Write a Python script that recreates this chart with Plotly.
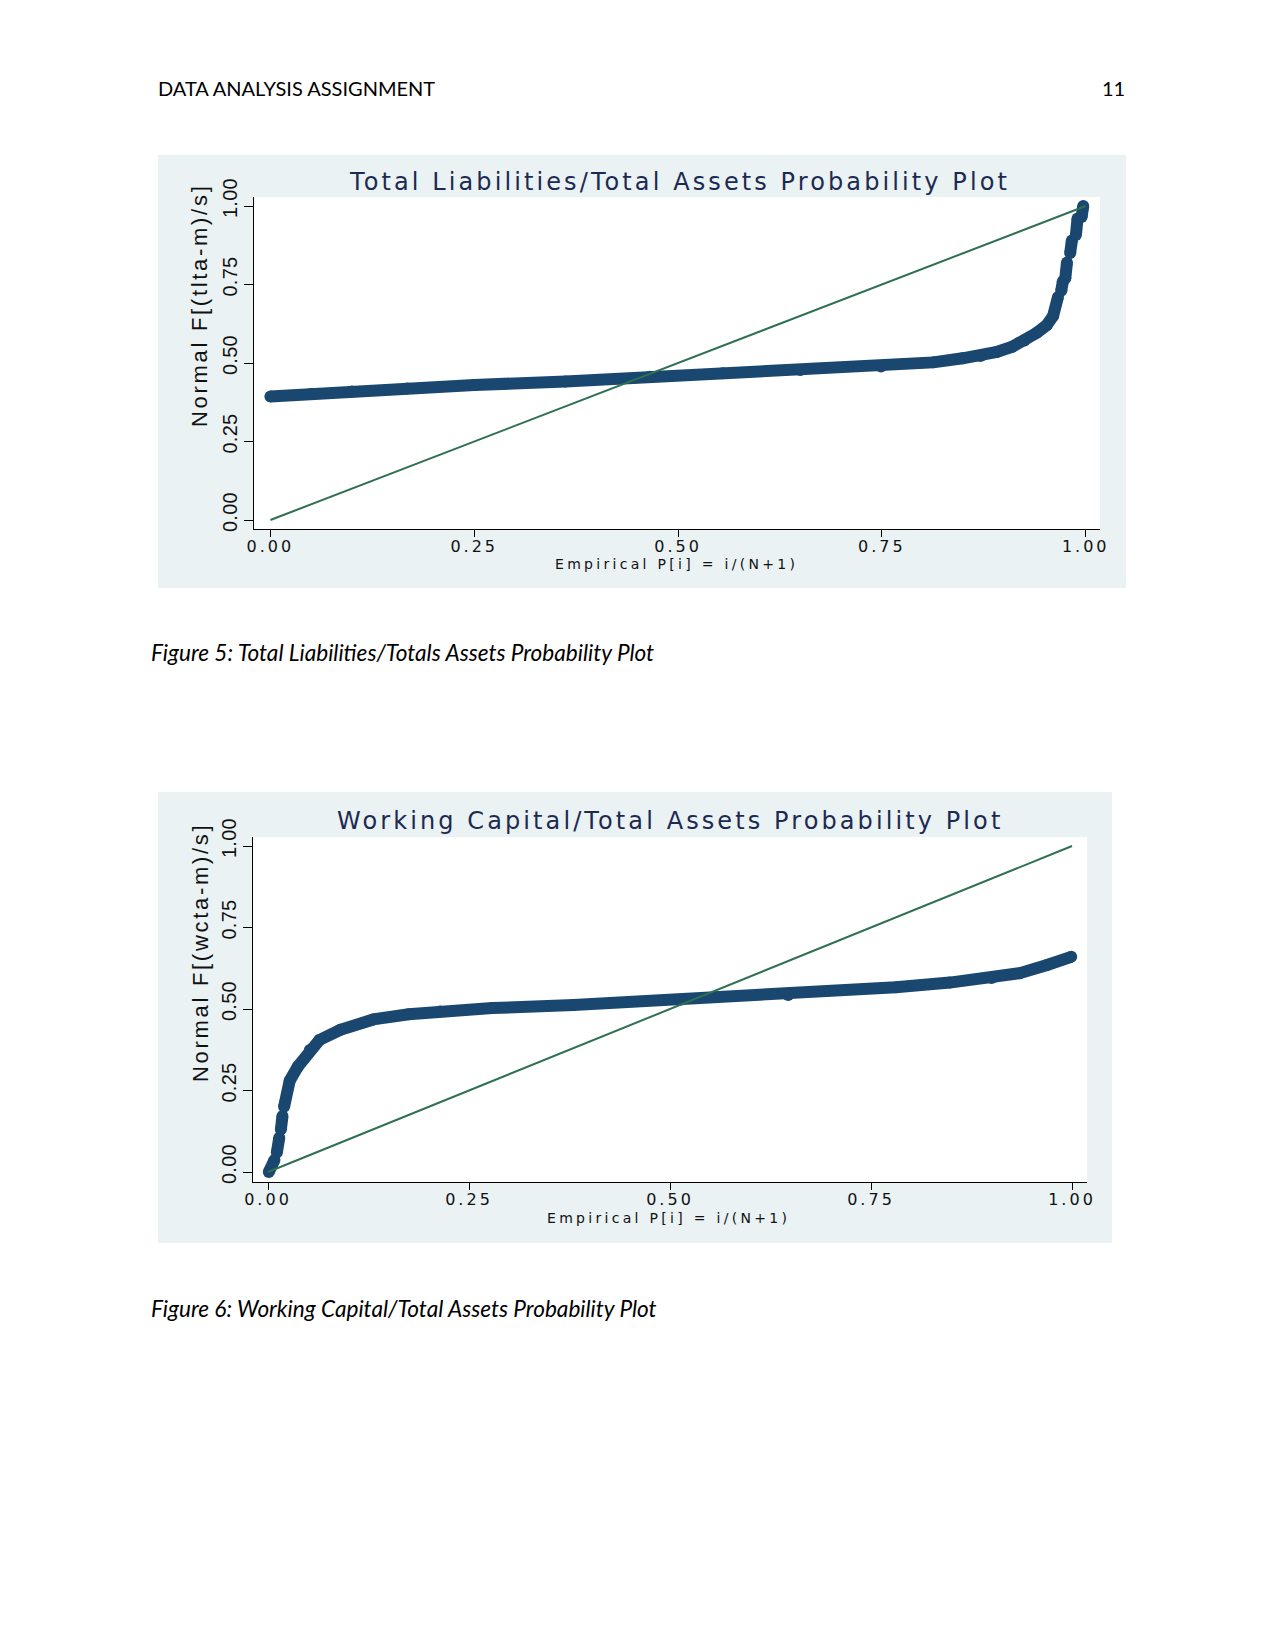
import plotly.graph_objects as go

W, H = 1275, 1650

# ---------------- data ----------------
# Figure 5: Total Liabilities / Total Assets  (Empirical P vs Normal F)
tlta_p = [0.000, 0.050, 0.100, 0.168, 0.250, 0.362, 0.465, 0.555, 0.650, 0.749,
          0.813, 0.849, 0.871, 0.891, 0.910, 0.925, 0.940, 0.952, 0.960, 0.966,
          None, 0.970, 0.972, None, 0.975, 0.977, None, 0.981, 0.983, None,
          0.988, 0.990, None, 0.995, 0.997]
tlta_f = [0.393, 0.401, 0.409, 0.419, 0.430, 0.441, 0.456, 0.467, 0.478, 0.489,
          0.502, 0.515, 0.522, 0.535, 0.552, 0.572, 0.596, 0.620, 0.650, 0.710,
          None, 0.730, 0.760, None, 0.770, 0.820, None, 0.850, 0.890, None,
          0.908, 0.960, None, 0.965, 1.000]

# Figure 6: Working Capital / Total Assets
wcta_p = [0.001, 0.008, None, 0.011, 0.014, None, 0.016, 0.018, None, 0.020,
          0.027, 0.037, 0.052, 0.064, 0.090, 0.131, 0.175, 0.214, 0.279, 0.380,
          0.513, 0.647, 0.781, 0.848, 0.900, 0.935, 0.969, 0.999]
wcta_f = [0.000, 0.037, None, 0.060, 0.105, None, 0.130, 0.172, None, 0.200,
          0.280, 0.323, 0.374, 0.405, 0.436, 0.468, 0.484, 0.492, 0.503, 0.512,
          0.528, 0.543, 0.567, 0.581, 0.595, 0.610, 0.635, 0.660]

# 45-degree reference line
ref_p = [0.0, 1.0]
ref_f = [0.0, 1.0]

tick_vals = [0.0, 0.25, 0.50, 0.75, 1.00]
tick_text = ["0.00", "0.25", "0.50", "0.75", "1.00"]

titles = ["Total Liabilities/Total Assets Probability Plot",
          "Working Capital/Total Assets Probability Plot"]
ytitles = ["Normal F[(tlta-m)/s]", "Normal F[(wcta-m)/s]"]
xtitle = "Empirical P[i] = i/(N+1)"
captions = ["Figure 5: Total Liabilities/Totals Assets Probability Plot",
            "Figure 6: Working Capital/Total Assets Probability Plot"]
header_left = "DATA ANALYSIS ASSIGNMENT"
header_right = "11"

# ---------------- styling ----------------
NAVY = "#1a476f"
GREEN = "#2e7052"
PANEL = "#eaf2f3"
TITLE_C = "#1c2a52"
TXT = "#111111"
WIDE = "DejaVu Sans, Liberation Sans, sans-serif"
ARIAL = "Liberation Sans, Arial, sans-serif"
DOC = "Lato, Carlito, sans-serif"


def px(x):
    return x / W


def py(y):
    return 1 - y / H


def ls(t, s):
    return f'<span style="letter-spacing:{s}px">{t}</span>'


# pixel geometry of the two Stata panels
panels = [
    dict(panel=(158, 155, 1126, 588), plot=(254, 197, 1100, 529),
         x0=270.4, x1=1085.7, y0=520, y1=206,
         title=(679, 182), ytitle=(200, 306), xtitle=(676, 564)),
    dict(panel=(158, 792, 1112, 1243), plot=(253, 837, 1087, 1182),
         x0=268, x1=1072, y0=1172, y1=846,
         title=(670, 821), ytitle=(200, 953), xtitle=(668, 1218)),
]

fig = go.Figure()
series = [(tlta_p, tlta_f), (wcta_p, wcta_f)]
shapes = []
annotations = []
layout_axes = {}

for i, (pnl, (sx, sy)) in enumerate(zip(panels, series)):
    n = "" if i == 0 else str(i + 1)
    xa, ya = "x" + n, "y" + n
    fig.add_trace(go.Scatter(
        x=sx, y=sy, xaxis=xa, yaxis=ya, mode="lines+markers",
        line=dict(color=NAVY, width=12), connectgaps=False,
        marker=dict(color=NAVY, size=12, line=dict(width=0)),
        hoverinfo="skip", showlegend=False))
    fig.add_trace(go.Scatter(
        x=ref_p, y=ref_f, xaxis=xa, yaxis=ya, mode="lines",
        line=dict(color=GREEN, width=2), hoverinfo="skip", showlegend=False))

    L, T, R, B = pnl["plot"]
    ux = (pnl["x1"] - pnl["x0"])
    uy = (pnl["y0"] - pnl["y1"])
    xr = [(L - pnl["x0"]) / ux, (R - pnl["x0"]) / ux]
    yr = [(pnl["y0"] - B) / uy, (pnl["y0"] - T) / uy]

    layout_axes["xaxis" + n] = dict(
        domain=[px(L), px(R)], range=xr, anchor=ya, automargin=False,
        showline=True, linecolor="black", linewidth=1.3,
        ticks="outside", ticklen=7, tickwidth=1.2, tickcolor="black",
        tickvals=tick_vals, ticktext=[ls(t, 3) for t in tick_text],
        ticklabelstandoff=-4,
        tickfont=dict(family=WIDE, size=16, color=TXT),
        showgrid=False, zeroline=False, fixedrange=True)
    layout_axes["yaxis" + n] = dict(
        domain=[py(B), py(T)], range=yr, anchor=xa, automargin=False,
        showline=True, linecolor="black", linewidth=1.3,
        ticks="outside", ticklen=9, tickwidth=1.2, tickcolor="black",
        tickvals=tick_vals, ticktext=[ls(t, 0.3) for t in tick_text],
        tickangle=-90, ticklabelshift=-5, ticklabelstandoff=-1,
        tickfont=dict(family=ARIAL, size=20, color=TXT),
        showgrid=False, zeroline=False, fixedrange=True)

    pl, pt, pr, pb = pnl["panel"]
    shapes.append(dict(type="rect", xref="paper", yref="paper", layer="below",
                       x0=px(pl), x1=px(pr), y0=py(pb), y1=py(pt),
                       fillcolor=PANEL, line=dict(width=0)))
    shapes.append(dict(type="rect", xref="paper", yref="paper", layer="below",
                       x0=px(L), x1=px(R), y0=py(B), y1=py(T),
                       fillcolor="white", line=dict(width=0)))

    tx, ty = pnl["title"]
    annotations.append(dict(text=ls(titles[i], 3.1), x=px(tx), y=py(ty),
                            xref="paper", yref="paper", showarrow=False,
                            xanchor="center", yanchor="middle",
                            font=dict(family=WIDE, size=24, color=TITLE_C)))
    yx, yy = pnl["ytitle"]
    annotations.append(dict(text=ls(ytitles[i], 2.7), x=px(yx), y=py(yy),
                            xref="paper", yref="paper", showarrow=False,
                            textangle=-90, xanchor="center", yanchor="middle",
                            font=dict(family=ARIAL, size=22, color=TXT)))
    xx, xy = pnl["xtitle"]
    annotations.append(dict(text=ls(xtitle, 3.3), x=px(xx), y=py(xy),
                            xref="paper", yref="paper", showarrow=False,
                            xanchor="center", yanchor="middle",
                            font=dict(family=WIDE, size=14, color=TXT)))

# page header and captions
annotations.append(dict(text=header_left, x=px(156), y=py(88), xref="paper",
                        yref="paper", showarrow=False, xanchor="left",
                        yanchor="middle",
                        font=dict(family=DOC, size=20, color="#000000")))
annotations.append(dict(text=header_right, x=px(1127), y=py(88), xref="paper",
                        yref="paper", showarrow=False, xanchor="right",
                        yanchor="middle",
                        font=dict(family=DOC, size=20, color="#000000")))
for cap, cy in zip(captions, [652, 1308]):
    annotations.append(dict(text="<i>" + cap + "</i>", x=px(149), y=py(cy),
                            xref="paper", yref="paper", showarrow=False,
                            xanchor="left", yanchor="middle",
                            font=dict(family=DOC, size=22.6, color="#000000")))

fig.update_layout(
    width=W, height=H,
    margin=dict(l=0, r=0, t=0, b=0, pad=0, autoexpand=False),
    paper_bgcolor="white", plot_bgcolor="rgba(0,0,0,0)",
    shapes=shapes, annotations=annotations, showlegend=False,
    **layout_axes)

fig.write_html(
    "out.html", config={"displayModeBar": False},
    post_script="document.body.style.margin='0px';"
                "document.documentElement.style.margin='0px';")
